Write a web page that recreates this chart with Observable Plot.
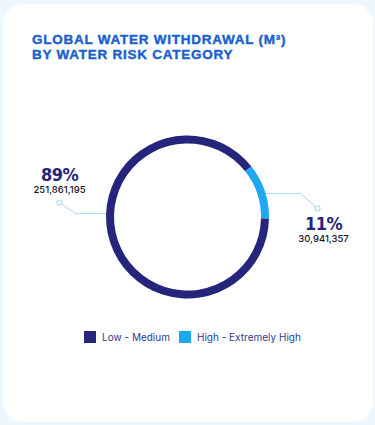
<!DOCTYPE html>
<html><head><meta charset="utf-8">
<script src="https://cdn.jsdelivr.net/npm/d3@7"></script>
<script src="https://cdn.jsdelivr.net/npm/@observablehq/plot@0.6"></script>
<style>
html,body{margin:0;padding:0;}
body{width:375px;height:425px;background:#eef7fd;position:relative;overflow:hidden;font-family:Inter,"Open Sans",sans-serif;}
#card{position:absolute;left:3px;top:4px;width:370px;height:418px;background:#fff;border-radius:20px;}
.title{position:absolute;left:32px;margin:0;font-family:"Liberation Sans",Arial,sans-serif;font-weight:700;font-size:13.5px;line-height:15px;height:15px;color:#1a5fd0;white-space:nowrap;letter-spacing:0.75px;-webkit-text-stroke:0.4px #1a5fd0;}
#t1{top:32px;}
#t2{top:47px;}
#chart{position:absolute;left:0;top:75px;}
#legend{position:absolute;top:331px;left:84px;display:flex;align-items:center;font-family:Inter,sans-serif;font-size:10px;color:#2b3a96;}
#legend .item{display:flex;align-items:center;margin-right:9px;}
#legend .sw{width:12px;height:12px;margin-right:6px;}
</style>
</head><body>
<div id="card"></div>
<div class="title" id="t1">GLOBAL WATER WITHDRAWAL (M³)</div>
<div class="title" id="t2">BY WATER RISK CATEGORY</div>
<div id="chart"></div>
<div id="legend"></div>
<script>
// data
const categories = ["Low - Medium", "High - Extremely High"];
const withdrawal = [251861195, 30941357];
const percentLabels = ["89%", "11%"];
const colors = ["#25257b", "#1ea8ef"];

// layout (pixels relative to donut centre)
const outerR = 81.5, innerR = 73.5;
const startDeg = 91;
const leaderLayout = [
  {pts: [[-81.5, -4], [-112.5, -4], [-128.5, -15]], label: [-128.5, -37], amount: [-128.5, -25]},
  {pts: [[78, -24], [112.5, -24], [129.5, -9]], label: [135.5, 12], amount: [135.5, 24]}
];

const rows = categories.map((c, i) => ({category: c, value: withdrawal[i], pct: percentLabels[i], amount: d3.format(",")(withdrawal[i])}));
const colorOf = d3.scaleOrdinal(categories, colors);

const start = startDeg * Math.PI / 180;
const arcs = d3.pie().value(d => d.value).sort(null).startAngle(start).endAngle(start + 2 * Math.PI)(rows);

const leaderLines = rows.flatMap((r, i) => leaderLayout[i].pts.map(([x, y]) => ({category: r.category, x, y})));
const leaderEnds = rows.map((r, i) => {const p = leaderLayout[i].pts; const e = p[p.length - 1]; return {x: e[0], y: e[1]};});
const pctLabels = rows.map((r, i) => ({text: r.pct, x: leaderLayout[i].label[0], y: leaderLayout[i].label[1]}));
const amtLabels = rows.map((r, i) => ({text: r.amount, x: leaderLayout[i].amount[0], y: leaderLayout[i].amount[1]}));

function donut(index, scales) {
  const cx = scales.x(0), cy = scales.y(0);
  const k = scales.x(1) - scales.x(0);
  const g = d3.create("svg:g").attr("transform", `translate(${cx},${cy})`);
  const arc = d3.arc().innerRadius(innerR * k).outerRadius(outerR * k);
  g.selectAll("path").data(arcs).join("path")
    .attr("d", arc)
    .attr("fill", d => colorOf(d.data.category));
  return g.node();
}

const chart = Plot.plot({
  width: 375,
  height: 240,
  margin: 0,
  style: {background: "transparent", overflow: "visible"},
  x: {domain: [-187.5, 187.5], range: [0, 375], axis: null},
  y: {domain: [-142, 98], range: [0, 240], axis: null},
  marks: [
    Plot.line(leaderLines, {x: "x", y: "y", z: "category", stroke: "#a9dcf6", strokeWidth: 1}),
    Plot.dot(leaderEnds, {x: "x", y: "y", r: 2.5, stroke: "#a9dcf6", strokeWidth: 1.2, fill: "white"}),
    donut,
    Plot.text(pctLabels, {x: "x", y: "y", text: "text", fontSize: 18, fontWeight: "bold", fontFamily: "'DejaVu Sans Condensed',sans-serif", fill: "#25257b", textAnchor: "middle", lineAnchor: "bottom"}),
    Plot.text(amtLabels, {x: "x", y: "y", text: "text", fontSize: 9.5, fontWeight: 500, fontFamily: "Inter,sans-serif", fill: "#15152a", textAnchor: "middle", lineAnchor: "bottom"})
  ]
});
chart.querySelectorAll("text").forEach(t => { if (/%/.test(t.textContent)) t.style.letterSpacing = "-0.5px"; });
document.getElementById("chart").appendChild(chart);

const legend = d3.select("#legend");
categories.forEach((c, i) => {
  const item = legend.append("div").attr("class", "item");
  item.append("div").attr("class", "sw").style("background", colors[i]);
  item.append("span").text(c);
});
</script>
</body></html>
